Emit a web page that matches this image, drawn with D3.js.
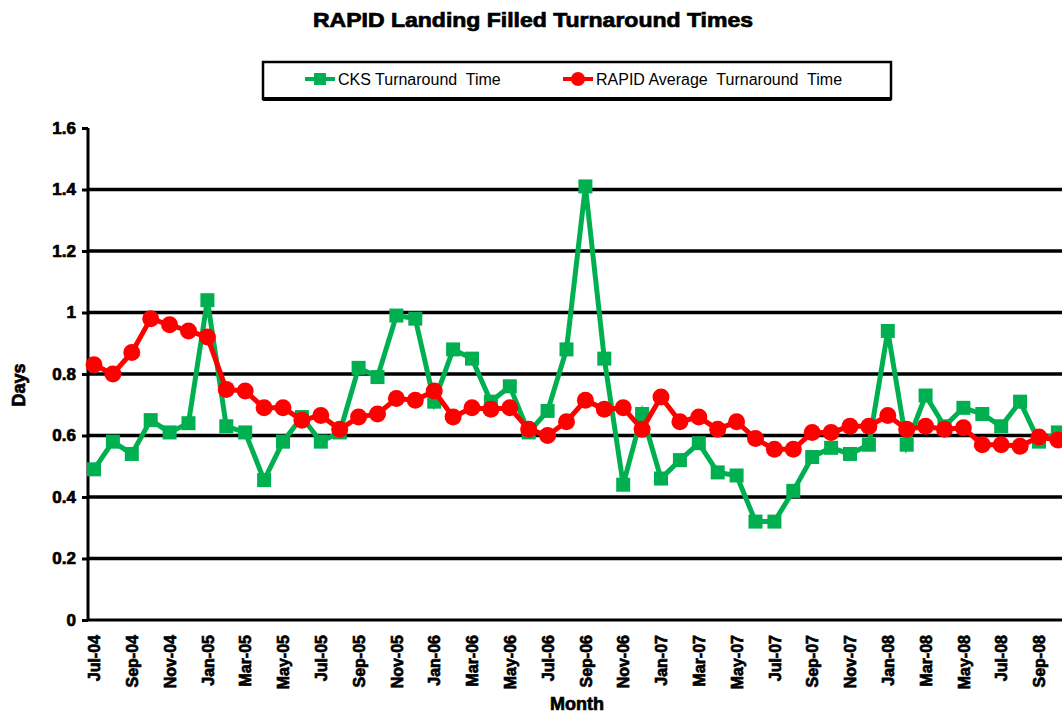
<!DOCTYPE html>
<meta charset="utf-8">
<html>

<head>
    <script src="https://d3js.org/d3.v7.min.js"></script>
    <title>RAPID Landing Filled Turnaround Times</title>
    <style>
        body { margin: 0; background: #fff; }
        text { font-family: "Liberation Sans", Arial, sans-serif; }
        .heavy { stroke: #000; stroke-width: 0.7px; }
    </style>
</head>

<body>
    <div id="chart"></div>

    <script>

        // months Jul-04 .. Oct-08
        var months = ["Jul-04", "Aug-04", "Sep-04", "Oct-04", "Nov-04", "Dec-04",
            "Jan-05", "Feb-05", "Mar-05", "Apr-05", "May-05", "Jun-05",
            "Jul-05", "Aug-05", "Sep-05", "Oct-05", "Nov-05", "Dec-05",
            "Jan-06", "Feb-06", "Mar-06", "Apr-06", "May-06", "Jun-06",
            "Jul-06", "Aug-06", "Sep-06", "Oct-06", "Nov-06", "Dec-06",
            "Jan-07", "Feb-07", "Mar-07", "Apr-07", "May-07", "Jun-07",
            "Jul-07", "Aug-07", "Sep-07", "Oct-07", "Nov-07", "Dec-07",
            "Jan-08", "Feb-08", "Mar-08", "Apr-08", "May-08", "Jun-08",
            "Jul-08", "Aug-08", "Sep-08", "Oct-08"];

        var cksTime = [0.49, 0.58, 0.54, 0.65, 0.61, 0.64, 1.04, 0.63, 0.61, 0.455,
            0.58, 0.66, 0.58, 0.61, 0.82, 0.79, 0.99, 0.98, 0.71, 0.88,
            0.85, 0.71, 0.76, 0.61, 0.68, 0.88, 1.41, 0.85, 0.44, 0.67,
            0.46, 0.52, 0.575, 0.48, 0.47, 0.32, 0.32, 0.42, 0.53, 0.56,
            0.54, 0.57, 0.94, 0.57, 0.73, 0.63, 0.69, 0.67, 0.63, 0.71,
            0.58, 0.61];

        var rapidAvg = [0.83, 0.80, 0.87, 0.98, 0.96, 0.94, 0.92, 0.75, 0.745, 0.69,
            0.69, 0.65, 0.665, 0.62, 0.66, 0.67, 0.72, 0.715, 0.745, 0.66,
            0.69, 0.685, 0.69, 0.62, 0.60, 0.645, 0.715, 0.685, 0.69, 0.62,
            0.725, 0.645, 0.66, 0.62, 0.645, 0.59, 0.555, 0.555, 0.61, 0.61,
            0.63, 0.63, 0.665, 0.62, 0.63, 0.62, 0.625, 0.57, 0.57, 0.565,
            0.595, 0.585];

        var yTicks = [0, 0.2, 0.4, 0.6, 0.8, 1, 1.2, 1.4, 1.6];

        // every second month gets a label
        var xTicks = months.filter(function (d, i) { return i % 2 == 0; });

        var width = 1062;
        var height = 714;
        var plotLeft = 88, plotBottom = 620, plotTop = 128;

        var svg = d3.select("#chart")
            .append("svg")
            .attr("width", width)
            .attr("height", height);

        var x = d3.scalePoint()
            .domain(months)
            .range([94, 94 + 18.9 * (months.length - 1)]);

        var y = d3.scaleLinear()
            .domain([0, 1.6])
            .range([plotBottom, plotTop]);

        // gridlines
        svg.append("g")
            .selectAll("line")
            .data(yTicks.filter(function (d) { return d > 0 && d < 1.6; }))
            .enter()
            .append("line")
            .attr("x1", plotLeft)
            .attr("x2", width)
            .attr("y1", function (d) { return y(d); })
            .attr("y2", function (d) { return y(d); })
            .attr("stroke", "#000")
            .attr("stroke-width", 3.5);

        // Y axis
        var yAxis = svg.append("g")
            .attr("transform", "translate(" + plotLeft + ",0)")
            .call(d3.axisLeft(y).tickValues(yTicks).tickSize(6).tickPadding(6)
                .tickFormat(function (d) { return d3.format("~g")(d); }));
        yAxis.select(".domain").attr("stroke-width", 3).attr("d", "M0," + plotTop + "V" + plotBottom);
        yAxis.selectAll(".tick line").attr("stroke-width", 3);
        yAxis.selectAll("text")
            .attr("class", "heavy")
            .style("font-size", "17px")
            .style("font-weight", "bold")
            .attr("fill", "#000");

        // X axis
        var xAxis = svg.append("g")
            .attr("transform", "translate(0," + plotBottom + ")")
            .call(d3.axisBottom(x).tickValues(xTicks).tickSize(0));
        xAxis.select(".domain").attr("stroke-width", 3).attr("d", "M" + plotLeft + ",0H" + width);
        xAxis.selectAll("text")
            .attr("class", "heavy")
            .attr("transform", "rotate(-90)")
            .attr("x", -15)
            .attr("y", 0)
            .attr("dy", "0.35em")
            .attr("text-anchor", "end")
            .style("font-size", "16px")
            .style("font-weight", "bold")
            .attr("fill", "#000");

        // lines
        var line = d3.line()
            .x(function (d, i) { return x(months[i]); })
            .y(function (d) { return y(d); });

        svg.append("path")
            .datum(cksTime)
            .attr("d", line)
            .attr("fill", "none")
            .attr("stroke", "#00b050")
            .attr("stroke-width", 5);

        svg.append("g")
            .selectAll("rect")
            .data(cksTime)
            .enter()
            .append("rect")
            .attr("x", function (d, i) { return x(months[i]) - 7; })
            .attr("y", function (d) { return y(d) - 7; })
            .attr("width", 14)
            .attr("height", 14)
            .attr("fill", "#00b050");

        svg.append("path")
            .datum(rapidAvg)
            .attr("d", line)
            .attr("fill", "none")
            .attr("stroke", "#ff0000")
            .attr("stroke-width", 5);

        svg.append("g")
            .selectAll("circle")
            .data(rapidAvg)
            .enter()
            .append("circle")
            .attr("cx", function (d, i) { return x(months[i]); })
            .attr("cy", function (d) { return y(d); })
            .attr("r", 8.5)
            .attr("fill", "#ff0000");

        // title
        svg.append("text")
            .attr("class", "heavy")
            .attr("x", 533)
            .attr("y", 27)
            .attr("text-anchor", "middle")
            .attr("textLength", 440)
            .attr("lengthAdjust", "spacingAndGlyphs")
            .style("font-size", "20px")
            .style("font-weight", "bold")
            .text("RAPID Landing Filled Turnaround Times");

        // axis titles
        svg.append("text")
            .attr("class", "heavy")
            .attr("transform", "translate(25,385) rotate(-90)")
            .attr("text-anchor", "middle")
            .style("font-size", "18px")
            .style("font-weight", "bold")
            .text("Days");

        svg.append("text")
            .attr("class", "heavy")
            .attr("x", 577)
            .attr("y", 710)
            .attr("text-anchor", "middle")
            .style("font-size", "18px")
            .style("font-weight", "bold")
            .text("Month");

        // legend
        var legend = svg.append("g");
        legend.append("rect")
            .attr("x", 263)
            .attr("y", 62)
            .attr("width", 628)
            .attr("height", 37)
            .attr("fill", "#fff")
            .attr("stroke", "#000")
            .attr("stroke-width", 2.5);
        legend.append("line")
            .attr("x1", 263).attr("x2", 891)
            .attr("y1", 99).attr("y2", 99)
            .attr("stroke", "#000")
            .attr("stroke-width", 4);

        var items = [
            { name: "CKS Turnaround  Time", color: "#00b050", shape: "rect", x: 305 },
            { name: "RAPID Average  Turnaround  Time", color: "#ff0000", shape: "circle", x: 563 }
        ];
        items.forEach(function (it) {
            legend.append("line")
                .attr("x1", it.x).attr("x2", it.x + 30)
                .attr("y1", 79).attr("y2", 79)
                .attr("stroke", it.color)
                .attr("stroke-width", 4);
            if (it.shape == "rect") {
                legend.append("rect")
                    .attr("x", it.x + 9).attr("y", 73)
                    .attr("width", 12).attr("height", 12)
                    .attr("fill", it.color);
            } else {
                legend.append("circle")
                    .attr("cx", it.x + 15).attr("cy", 79)
                    .attr("r", 7)
                    .attr("fill", it.color);
            }
            legend.append("text")
                .attr("x", it.x + 33)
                .attr("y", 85)
                .style("font-size", "16px")
                .style("white-space", "pre")
                .attr("xml:space", "preserve")
                .text(it.name);
        });

    </script>

</body>

</html>
